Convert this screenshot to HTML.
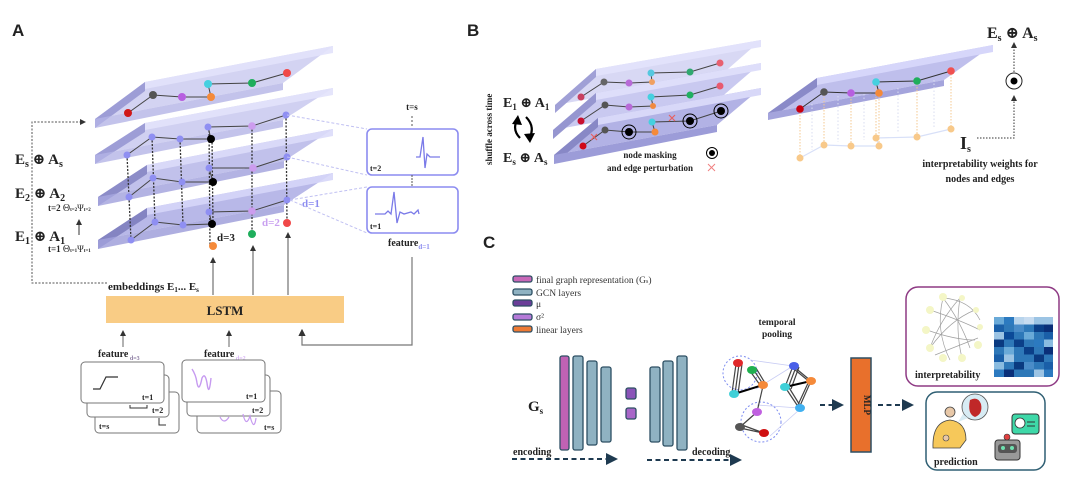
<!DOCTYPE html>
<html><head><meta charset="utf-8"><style>
html,body{margin:0;padding:0;background:#fff;}
svg{display:block;font-family:"Liberation Serif","DejaVu Serif",serif;}
.b{font-weight:bold;fill:#222;}
</style></head><body>
<svg width="1080" height="489" viewBox="0 0 1080 489" xmlns="http://www.w3.org/2000/svg">
<defs>
<marker id="ah" markerWidth="6" markerHeight="6" refX="5" refY="3" orient="auto"><path d="M0,0 L6,3 L0,6z" fill="#333"/></marker>
<marker id="ahd" markerWidth="6" markerHeight="6" refX="5" refY="3" orient="auto"><path d="M0,0 L6,3 L0,6z" fill="#1e3a50"/></marker>
</defs>

<!-- ============ PANEL A ============ -->
<text x="12" y="36" class="b" font-size="17" font-family="Liberation Sans,sans-serif">A</text>

<!-- planes -->
<g stroke="none">
<polygon points="95,119 145,82 333,46 283,83" fill="#c4c4ee" opacity=".75"/>
<polygon points="145,82 333,46 333,53 145,89" fill="#e2e2fb" opacity=".9"/>
<polygon points="95,119 145,82 145,91 95,128" fill="#9d9dd6"/>
<polygon points="95,119 283,83 283,90 95,128" fill="#b4b4e6" opacity=".8"/>

<polygon points="95,155 145,123 333,88 283,120" fill="#c0c0ec" opacity=".75"/>
<polygon points="145,123 333,88 333,95 145,130" fill="#e2e2fb" opacity=".9"/>
<polygon points="95,155 145,123 145,132 95,164" fill="#9d9dd6"/>
<polygon points="95,155 283,120 283,127 95,164" fill="#b4b4e6" opacity=".8"/>

<polygon points="98,197 147,165 333,129 284,161" fill="#b2b2e6" opacity=".8"/>
<polygon points="147,165 333,129 333,136 147,172" fill="#dcdcfa" opacity=".9"/>
<polygon points="98,197 147,165 147,174 98,206" fill="#8c8cc8"/>
<polygon points="98,197 284,161 284,168 98,206" fill="#a6a6de" opacity=".85"/>

<polygon points="98,240 147,208 333,173 284,205" fill="#acacE4" opacity=".85"/>
<polygon points="147,208 333,173 333,180 147,215" fill="#d6d6f8" opacity=".9"/>
<polygon points="98,240 147,208 147,217 98,249" fill="#8484c2"/>
<polygon points="98,240 284,205 284,212 98,249" fill="#a0a0da" opacity=".85"/>
</g>
<!-- dashed verticals -->
<g stroke="#333" stroke-width="1.3" stroke-dasharray="2,1.5">
<line x1="127" y1="155" x2="131" y2="240"/>
<line x1="152" y1="137" x2="155" y2="222"/>
<line x1="180" y1="139" x2="183" y2="225"/>
<line x1="209" y1="127" x2="210" y2="246"/>
<line x1="212" y1="139" x2="213" y2="224"/>
<line x1="252" y1="126" x2="252" y2="234"/>
<line x1="286" y1="115" x2="287" y2="223"/>
</g>
<!-- edges -->
<g stroke="#444" stroke-width="1" fill="none">
<polyline points="128,113 153,95 182,97 211,97 208,84 252,83 287,73"/>
<polyline points="127,155 152,137 180,139 211,139 208,127 252,126 286,115"/>
<polyline points="129,197 153,178 182,182 213,182 209,168 253,168 287,157"/>
<polyline points="131,240 155,222 183,225 212,224 209,212 252,211 287,200"/>
</g>
<g>
<circle cx="128" cy="113" r="4" fill="#d01818"/><circle cx="153" cy="95" r="4" fill="#555"/><circle cx="182" cy="97" r="4" fill="#b75fe0"/><circle cx="211" cy="97" r="4" fill="#f58a3a"/><circle cx="208" cy="84" r="4" fill="#45d0e0"/><circle cx="252" cy="83" r="4" fill="#1fae5c"/><circle cx="287" cy="73" r="4" fill="#f04848"/>
<g fill="#8f8ff2"><circle cx="127" cy="155" r="3.5"/><circle cx="152" cy="137" r="3.5"/><circle cx="180" cy="139" r="3.5"/><circle cx="208" cy="127" r="3.5"/><circle cx="286" cy="115" r="3.5"/>
<circle cx="129" cy="197" r="3.5"/><circle cx="153" cy="178" r="3.5"/><circle cx="182" cy="182" r="3.5"/><circle cx="209" cy="168" r="3.5"/><circle cx="287" cy="157" r="3.5"/>
<circle cx="131" cy="240" r="3.5"/><circle cx="155" cy="222" r="3.5"/><circle cx="183" cy="225" r="3.5"/><circle cx="209" cy="212" r="3.5"/><circle cx="287" cy="200" r="3.5"/></g>
<g fill="#cc9cee"><circle cx="252" cy="126" r="3.8"/><circle cx="253" cy="168" r="3.8"/><circle cx="252" cy="211" r="3.8"/></g>
<g fill="#000"><circle cx="211" cy="139" r="4"/><circle cx="213" cy="182" r="4"/><circle cx="212" cy="224" r="4"/></g>
<circle cx="213" cy="246" r="4" fill="#f58a3a"/><circle cx="252" cy="234" r="4" fill="#1fae5c"/><circle cx="287" cy="223" r="4" fill="#f04848"/>
</g>
<text x="217" y="241" class="b" font-size="11">d=3</text>
<text x="262" y="226" font-weight="bold" font-size="11" fill="#c9a0f0">d=2</text>
<text x="302" y="207" font-weight="bold" font-size="11" fill="#8c8cf0">d=1</text>

<!-- left labels -->
<text x="15" y="164" class="b" font-size="15">E<tspan font-size="10" dy="3">s</tspan><tspan dy="-3"> ⊕ A</tspan><tspan font-size="10" dy="3">s</tspan></text>
<text x="15" y="198" class="b" font-size="15">E<tspan font-size="10" dy="3">2</tspan><tspan dy="-3"> ⊕ A</tspan><tspan font-size="10" dy="3">2</tspan></text>
<text x="15" y="241" class="b" font-size="15">E<tspan font-size="10" dy="3">1</tspan><tspan dy="-3"> ⊕ A</tspan><tspan font-size="10" dy="3">1</tspan></text>
<text x="48" y="211" class="b" font-size="9">t=2 <tspan font-weight="normal" font-size="10">Θ</tspan><tspan font-size="5">t=2</tspan><tspan font-weight="normal" font-size="9">Ψ</tspan><tspan font-size="5">t=2</tspan></text>
<text x="48" y="252" class="b" font-size="9">t=1 <tspan font-weight="normal" font-size="10">Θ</tspan><tspan font-size="5">t=1</tspan><tspan font-weight="normal" font-size="9">Ψ</tspan><tspan font-size="5">t=1</tspan></text>
<line x1="79" y1="235" x2="79" y2="220" stroke="#333" stroke-width="1" marker-end="url(#ah)"/>
<polyline points="107,283 32,283 32,122 85,122" fill="none" stroke="#555" stroke-width="1" stroke-dasharray="2,1.5" marker-end="url(#ah)"/>

<!-- feature boxes -->
<text x="412" y="110" class="b" font-size="9" text-anchor="middle">t=s</text>
<line x1="412" y1="116" x2="412" y2="128" stroke="#555" stroke-dasharray="2,2"/>
<rect x="367" y="129" width="91" height="46" rx="5" fill="#fff" stroke="#8c8cf0" stroke-width="1.6"/>
<rect x="367" y="187" width="91" height="46" rx="5" fill="#fff" stroke="#8c8cf0" stroke-width="1.6"/>
<line x1="412" y1="175" x2="412" y2="187" stroke="#555" stroke-dasharray="2,1"/>
<polyline points="416,157 420,157 423,137 425,168 427,154 430,157 440,157" fill="none" stroke="#7a7ae8" stroke-width="1.3"/>
<polyline points="375,214 385,214 388,211 391,214 394,192 397,223 400,212 404,214 411,212 414,214 418,210 419,214" fill="none" stroke="#7a7ae8" stroke-width="1.3"/>
<text x="370" y="171" class="b" font-size="8">t=2</text>
<text x="370" y="229" class="b" font-size="8">t=1</text>
<g stroke="#c0c0f2" stroke-width="1" stroke-dasharray="3,2">
<line x1="287" y1="115" x2="367" y2="129"/><line x1="287" y1="157" x2="367" y2="175"/>
<line x1="290" y1="200" x2="367" y2="187"/><line x1="290" y1="200" x2="367" y2="233"/>
</g>
<text x="388" y="246" class="b" font-size="10">feature<tspan font-size="7" fill="#8c8cf0" dy="3">d=1</tspan></text>
<polyline points="412,257 412,345 302,345 302,330" fill="none" stroke="#777" stroke-width="1.2" marker-end="url(#ah)"/>

<!-- LSTM -->
<text x="108" y="290" class="b" font-size="11">embeddings E<tspan font-size="7" dy="2">1</tspan><tspan dy="-2">... E</tspan><tspan font-size="7" dy="2">s</tspan></text>
<g stroke="#555" stroke-width="1"><line x1="213" y1="295" x2="213" y2="258" marker-end="url(#ah)"/><line x1="253" y1="295" x2="253" y2="246" marker-end="url(#ah)"/><line x1="288" y1="295" x2="288" y2="233" marker-end="url(#ah)"/></g>
<rect x="106" y="296" width="238" height="27" fill="#f9cc85"/>
<text x="225" y="315" class="b" font-size="13" text-anchor="middle">LSTM</text>
<g stroke="#666" stroke-width="1"><line x1="123" y1="347" x2="123" y2="331" marker-end="url(#ah)"/><line x1="229" y1="347" x2="229" y2="331" marker-end="url(#ah)"/></g>
<text x="98" y="357" class="b" font-size="10">feature<tspan font-size="6" fill="#8a7aa0" dy="3"> d=3</tspan></text>
<text x="204" y="357" class="b" font-size="10">feature<tspan font-size="6" fill="#d8b6f6" dy="3"> d=2</tspan></text>
<g fill="#fff" stroke="#777" stroke-width="1">
<rect x="95" y="392" width="84" height="41" rx="4"/><rect x="87" y="375" width="82" height="42" rx="4"/><rect x="81" y="362" width="83" height="41" rx="4"/>
<rect x="197" y="391" width="84" height="42" rx="4"/><rect x="187" y="375" width="83" height="41" rx="4"/><rect x="182" y="360" width="83" height="42" rx="4"/>
</g>
<polyline points="93,389 100,389 106,377 118,377" fill="none" stroke="#333" stroke-width="1.2"/>
<polyline points="130,405 130,408 147,408 147,405" fill="none" stroke="#333" stroke-width="1"/>
<polyline points="159,418 159,425 166,425" fill="none" stroke="#333" stroke-width="1"/>
<path d="M192,369 Q196,375 197,383 Q199,393 202,378 Q205,372 207,383 Q209,398 211,378" fill="none" stroke="#c69af0" stroke-width="1.4"/>
<path d="M220,417 Q224,425 229,417" fill="none" stroke="#c69af0" stroke-width="1.2"/>
<path d="M243,414 Q246,428 250,416 Q254,432 256,418" fill="none" stroke="#c69af0" stroke-width="1.2"/>
<g class="b" font-size="8"><text x="142" y="400">t=1</text><text x="152" y="413">t=2</text><text x="99" y="429">t=s</text>
<text x="246" y="399">t=1</text><text x="252" y="413">t=2</text><text x="264" y="430">t=s</text></g>

<!-- ============ PANEL B ============ -->
<text x="467" y="36" class="b" font-size="17" font-family="Liberation Sans,sans-serif">B</text>
<g>
<polygon points="555,105 596,69 761,40 720,76" fill="#c8c8ef" opacity=".7"/>
<polygon points="596,69 761,40 761,47 596,76" fill="#e2e2fb"/>
<polygon points="555,105 596,69 596,77 555,113" fill="#a0a0d6"/>
<polygon points="553,130 596,93 761,63 718,100" fill="#bcbcec" opacity=".8"/>
<polygon points="596,93 761,63 761,70 596,100" fill="#dedefa"/>
<polygon points="553,130 596,93 596,102 553,139" fill="#9696d0"/>
<polygon points="554,155 598,118 761,88 717,125" fill="#aaaae2" opacity=".9"/>
<polygon points="598,118 761,88 761,95 598,125" fill="#d8d8f8"/>
<polygon points="554,155 598,118 598,127 554,164" fill="#8888c6"/>
<polygon points="554,155 717,125 717,132 554,164" fill="#9c9cd8"/>
</g>
<g stroke="#444" stroke-width="1" fill="none">
<polyline points="581,97 604,82 629,83 652,82 651,73 690,72 720,63"/>
<polyline points="581,121 605,105 629,107 653,106 651,97 690,95 720,86"/>
<polyline points="583,146 605,130 629,132 655,132 652,122 690,121 721,111"/>
</g>
<g>
<circle cx="581" cy="97" r="3.5" fill="#c84060"/><circle cx="604" cy="82" r="3.5" fill="#666"/><circle cx="629" cy="83" r="3.5" fill="#b86ad8"/><circle cx="652" cy="82" r="3" fill="#f0a060"/><circle cx="651" cy="73" r="3.5" fill="#55c8e0"/><circle cx="690" cy="72" r="3.5" fill="#30a870"/><circle cx="720" cy="63" r="3.5" fill="#e86070"/>
<circle cx="581" cy="121" r="3.5" fill="#c81030"/><circle cx="605" cy="105" r="3.5" fill="#555"/><circle cx="629" cy="107" r="3.5" fill="#b86ad8"/><circle cx="653" cy="106" r="3" fill="#f08a40"/><circle cx="651" cy="97" r="3.5" fill="#45d0e0"/><circle cx="690" cy="95" r="3.5" fill="#20b060"/><circle cx="720" cy="86" r="3.5" fill="#e85a70"/>
<circle cx="583" cy="146" r="3.5" fill="#d00818"/><circle cx="605" cy="130" r="3.5" fill="#555"/><circle cx="655" cy="132" r="3.5" fill="#f58a3a"/><circle cx="652" cy="122" r="3.5" fill="#45d0e0"/>
<g fill="none" stroke="#000" stroke-width="1"><circle cx="629" cy="132" r="7"/><circle cx="690" cy="121" r="7"/><circle cx="721" cy="111" r="7"/></g>
<g fill="#000"><circle cx="629" cy="132" r="4"/><circle cx="690" cy="121" r="4"/><circle cx="721" cy="111" r="4"/></g>
</g>
<g stroke="#e86060" stroke-width="1.2"><path d="M591,134 l6,6 M597,134 l-6,6"/><path d="M669,115 l6,6 M675,115 l-6,6"/></g>
<text x="0" y="0" class="b" font-size="9" transform="translate(492,165) rotate(-90)">shuffle across time</text>
<text x="503" y="107" class="b" font-size="14">E<tspan font-size="9" dy="3">1</tspan><tspan dy="-3"> ⊕ A</tspan><tspan font-size="9" dy="3">1</tspan></text>
<text x="503" y="162" class="b" font-size="14">E<tspan font-size="9" dy="3">s</tspan><tspan dy="-3"> ⊕ A</tspan><tspan font-size="9" dy="3">s</tspan></text>
<path d="M520,138 Q512,130 517,120" fill="none" stroke="#000" stroke-width="2.2"/><path d="M512,124 L518,115 L522,125z" fill="#000"/>
<path d="M526,117 Q535,126 530,137" fill="none" stroke="#000" stroke-width="2.2"/><path d="M524,134 L530,143 L535,133z" fill="#000"/>
<text x="650" y="158" class="b" font-size="9" text-anchor="middle">node masking</text>
<text x="650" y="171" class="b" font-size="9" text-anchor="middle">and edge perturbation</text>
<circle cx="712" cy="153" r="5.5" fill="none" stroke="#000"/><circle cx="712" cy="153" r="3" fill="#000"/>
<path d="M708,164 l7,7 M715,164 l-7,7" stroke="#f08080" stroke-width="1"/>

<!-- B right -->
<polygon points="768,113 817,78 993,45 944,80" fill="#b8b8ea" opacity=".9"/>
<polygon points="817,78 993,45 993,52 817,85" fill="#d6d6fa"/>
<polygon points="768,113 817,78 817,87 768,120" fill="#8a8ac8"/>
<polygon points="768,113 944,80 944,86 768,120" fill="#a4a4dc"/>
<g stroke="#f5c890" stroke-width="1" stroke-dasharray="1.5,1.5">
<line x1="800" y1="109" x2="800" y2="158"/><line x1="824" y1="92" x2="824" y2="145"/><line x1="851" y1="93" x2="851" y2="146"/><line x1="879" y1="93" x2="879" y2="146"/><line x1="876" y1="82" x2="876" y2="138"/><line x1="917" y1="81" x2="917" y2="137"/><line x1="951" y1="71" x2="951" y2="129"/>
</g>
<g stroke="#d8dcf0" stroke-width="1" stroke-dasharray="1.5,2">
<line x1="812" y1="104" x2="812" y2="150"/><line x1="838" y1="96" x2="838" y2="142"/><line x1="864" y1="94" x2="864" y2="140"/><line x1="898" y1="88" x2="898" y2="132"/><line x1="934" y1="80" x2="934" y2="128"/>
</g>
<polyline points="800,158 824,145 851,146 879,146 876,138 917,137 951,129" fill="none" stroke="#d8e0f8" stroke-width="1.2"/>
<g fill="#f8c98a"><circle cx="800" cy="158" r="3.5"/><circle cx="824" cy="145" r="3.5"/><circle cx="851" cy="146" r="3.5"/><circle cx="879" cy="146" r="3.5"/><circle cx="876" cy="138" r="3.5"/><circle cx="917" cy="137" r="3.5"/><circle cx="951" cy="129" r="3.5"/></g>
<polyline points="800,109 824,92 851,93 879,93 876,82 917,81 951,71" fill="none" stroke="#333" stroke-width="1"/>
<circle cx="800" cy="109" r="3.8" fill="#c80010"/><circle cx="824" cy="92" r="3.8" fill="#555"/><circle cx="851" cy="93" r="3.8" fill="#b75fe0"/><circle cx="879" cy="93" r="3.8" fill="#f58a3a"/><circle cx="876" cy="82" r="3.8" fill="#45d0e0"/><circle cx="917" cy="81" r="3.8" fill="#1fae5c"/><circle cx="951" cy="71" r="3.8" fill="#f05050"/>
<text x="987" y="38" class="b" font-size="16">E<tspan font-size="10" dy="3">s</tspan><tspan dy="-3"> ⊕ A</tspan><tspan font-size="10" dy="3">s</tspan></text>
<circle cx="1014" cy="81" r="8" fill="#fff" stroke="#222"/><circle cx="1014" cy="81" r="3.5" fill="#000"/>
<line x1="1014" y1="72" x2="1014" y2="43" stroke="#333" stroke-dasharray="1.5,1.5" marker-end="url(#ah)"/>
<polyline points="977,138 1014,138 1014,96" fill="none" stroke="#333" stroke-dasharray="1.5,1.5" marker-end="url(#ah)"/>
<text x="960" y="149" class="b" font-size="18">I<tspan font-size="10" dy="3">s</tspan></text>
<text x="980" y="167" class="b" font-size="10" text-anchor="middle">interpretability weights for</text>
<text x="980" y="182" class="b" font-size="10" text-anchor="middle">nodes and edges</text>

<!-- ============ PANEL C ============ -->
<text x="483" y="248" class="b" font-size="17" font-family="Liberation Sans,sans-serif">C</text>
<g stroke="#2d4f63" stroke-width="1.3">
<rect x="513" y="276" width="19" height="6" rx="2" fill="#c868b8"/>
<rect x="513" y="289" width="19" height="6" rx="2" fill="#8fb2c2"/>
<rect x="513" y="300" width="19" height="6" rx="2" fill="#6a3e98"/>
<rect x="513" y="314" width="19" height="6" rx="2" fill="#b57ad8"/>
<rect x="513" y="326" width="19" height="6" rx="2" fill="#ee7a34"/>
</g>
<g font-size="9.5" fill="#333">
<text x="536" y="283">final graph representation (G<tspan font-size="6">s</tspan>)</text>
<text x="536" y="296">GCN layers</text>
<text x="536" y="307">μ</text>
<text x="536" y="320">σ²</text>
<text x="536" y="333">linear layers</text>
</g>
<text x="528" y="411" class="b" font-size="15">G<tspan font-size="9" dy="3">s</tspan></text>
<g stroke="#2d4f63" stroke-width="1.3">
<rect x="560" y="356" width="9" height="94" rx="2" fill="#c062b4"/>
<rect x="573" y="356" width="10" height="94" rx="2" fill="#8fb2c2"/>
<rect x="587" y="361" width="10" height="84" rx="2" fill="#8fb2c2"/>
<rect x="601" y="367" width="10" height="75" rx="2" fill="#8fb2c2"/>
<rect x="626" y="388" width="10" height="11" rx="2" fill="#8a54b8"/>
<rect x="626" y="408" width="10" height="11" rx="2" fill="#a866c8"/>
<rect x="650" y="367" width="10" height="75" rx="2" fill="#8fb2c2"/>
<rect x="663" y="361" width="10" height="85" rx="2" fill="#8fb2c2"/>
<rect x="677" y="356" width="10" height="94" rx="2" fill="#8fb2c2"/>
</g>
<text x="513" y="455" class="b" font-size="10">encoding</text>
<text x="692" y="455" class="b" font-size="10">decoding</text>
<g stroke="#1e3a50" stroke-width="2" stroke-dasharray="5,3.5">
<line x1="512" y1="459" x2="616" y2="459" marker-end="url(#ahd)"/>
<line x1="647" y1="460" x2="740" y2="460" marker-end="url(#ahd)"/>
<line x1="820" y1="405" x2="842" y2="405" marker-end="url(#ahd)"/>
<line x1="878" y1="405" x2="912" y2="405" marker-end="url(#ahd)"/>
</g>
<text x="777" y="325" class="b" font-size="9.5" text-anchor="middle">temporal</text>
<text x="777" y="337" class="b" font-size="9.5" text-anchor="middle">pooling</text>
<!-- pooling graph -->
<g fill="none" stroke="#7d8cf0" stroke-width="1" stroke-dasharray="2,2">
<circle cx="740" cy="373" r="17"/><circle cx="761" cy="422" r="20"/>
</g>
<g stroke="#c8ccf4" stroke-width=".8"><line x1="750" y1="360" x2="793" y2="366"/><line x1="757" y1="405" x2="799" y2="408"/><line x1="770" y1="436" x2="799" y2="410"/><line x1="756" y1="389" x2="793" y2="366"/></g>
<g stroke="#444" stroke-width="1.2">
<path d="M736,364 L732,393 M739,364 L735,394 M742,364 L738,394"/>
<path d="M750,371 L760,385 M753,369 L763,384 M756,368 L765,383"/>
<path d="M734,394 L763,385" stroke="#000" stroke-width="2"/>
<path d="M763,386 L757,412"/>
<path d="M740,427 L757,412 M740,428 L763,433 M742,425 L761,432"/>
<path d="M793,366 L785,387 M796,367 L788,388 M799,367 L791,389"/>
<path d="M793,366 L811,381 M794,369 L811,383"/>
<path d="M785,387 L799,408 M788,386 L801,407"/>
<path d="M811,381 L799,408 M809,381 L797,407"/>
<path d="M785,387 L811,381" stroke="#000" stroke-width="2"/>
</g>
<g>
<ellipse cx="738" cy="363" rx="5" ry="4" fill="#e0282a"/><ellipse cx="752" cy="370" rx="5" ry="4" fill="#20b050"/><ellipse cx="734" cy="394" rx="5" ry="4" fill="#40d0d8"/><ellipse cx="763" cy="385" rx="5" ry="4" fill="#f58a3a"/><ellipse cx="757" cy="412" rx="5" ry="4" fill="#c060e0"/><ellipse cx="740" cy="427" rx="5" ry="4" fill="#555"/><ellipse cx="764" cy="433" rx="5" ry="4" fill="#d01010"/>
<ellipse cx="794" cy="366" rx="5" ry="4" fill="#4a60e8"/><ellipse cx="811" cy="381" rx="5" ry="4" fill="#f58a3a"/><ellipse cx="785" cy="387" rx="5" ry="4" fill="#40d0d8"/><ellipse cx="800" cy="408" rx="5" ry="4" fill="#40b0f0"/>
</g>
<!-- MLP -->
<rect x="851" y="358" width="20" height="94" fill="#e8702c" stroke="#2d4f63" stroke-width="1.5"/>
<text x="0" y="0" class="b" font-size="9" text-anchor="middle" transform="translate(864,405) rotate(90)">MLP</text>
<!-- interpretability -->
<rect x="906" y="287" width="153" height="99" rx="12" fill="#fff" stroke="#8e3a84" stroke-width="1.5"/>
<g stroke="#888" stroke-width=".7" fill="none" opacity=".8">
<path d="M943,298 Q960,320 970,348"/><path d="M943,298 Q935,330 950,360"/><path d="M930,310 Q960,320 980,330"/><path d="M930,348 Q950,320 975,310"/><path d="M960,298 Q955,330 962,358"/><path d="M927,330 Q955,340 975,340"/><path d="M943,298 Q970,300 980,320"/><path d="M935,355 Q960,345 978,338"/><path d="M960,298 Q940,320 930,348"/>
</g>
<g fill="#f4f6c6"><circle cx="943" cy="297" r="4"/><circle cx="962" cy="298" r="3"/><circle cx="976" cy="310" r="3"/><circle cx="930" cy="310" r="4"/><circle cx="926" cy="330" r="4"/><circle cx="930" cy="348" r="4"/><circle cx="943" cy="358" r="4"/><circle cx="962" cy="358" r="4"/><circle cx="978" cy="345" r="4"/><circle cx="980" cy="327" r="3"/></g>
<g>
<rect x="994" y="317" width="59" height="60" fill="#2e78b8"/>
<rect x="994" y="317" width="10" height="7.5" fill="#6aaad8"/><rect x="1004" y="317" width="10" height="7.5" fill="#2c7ac0"/><rect x="1014" y="317" width="10" height="7.5" fill="#b8d4ec"/><rect x="1024" y="317" width="10" height="7.5" fill="#c8dcf0"/><rect x="1034" y="317" width="19" height="7.5" fill="#9cc4e4"/>
<rect x="994" y="324.5" width="10" height="7.5" fill="#1a5fa8"/><rect x="1014" y="324.5" width="10" height="7.5" fill="#4a8cc8"/><rect x="1034" y="324.5" width="10" height="7.5" fill="#0b3f88"/><rect x="1044" y="324.5" width="9" height="7.5" fill="#0a2f78"/>
<rect x="994" y="332" width="10" height="7.5" fill="#9cc4e4"/><rect x="1004" y="332" width="10" height="7.5" fill="#0b4a98"/><rect x="1024" y="332" width="10" height="7.5" fill="#6aaad8"/><rect x="1044" y="332" width="9" height="7.5" fill="#1a5fa8"/>
<rect x="994" y="339.5" width="10" height="7.5" fill="#0a3a80"/><rect x="1014" y="339.5" width="10" height="7.5" fill="#0b3f88"/><rect x="1034" y="339.5" width="10" height="7.5" fill="#2c7ac0"/><rect x="1044" y="339.5" width="9" height="7.5" fill="#8abce0"/>
<rect x="1004" y="347" width="10" height="7.5" fill="#6aaad8"/><rect x="1024" y="347" width="10" height="7.5" fill="#0b3f88"/><rect x="1044" y="347" width="9" height="7.5" fill="#0a2f78"/>
<rect x="994" y="354.5" width="10" height="7.5" fill="#1a5fa8"/><rect x="1004" y="354.5" width="10" height="7.5" fill="#9cc4e4"/><rect x="1034" y="354.5" width="10" height="7.5" fill="#0a3a80"/>
<rect x="994" y="362" width="10" height="7.5" fill="#8abce0"/><rect x="1014" y="362" width="10" height="7.5" fill="#0a3a80"/><rect x="1024" y="362" width="10" height="7.5" fill="#4a8cc8"/><rect x="1044" y="362" width="9" height="7.5" fill="#1a5fa8"/>
<rect x="994" y="369.5" width="10" height="7.5" fill="#2c7ac0"/><rect x="1004" y="369.5" width="10" height="7.5" fill="#0a2f78"/><rect x="1034" y="369.5" width="10" height="7.5" fill="#9cc4e4"/><rect x="1044" y="369.5" width="9" height="7.5" fill="#2c7ac0"/>
</g>
<text x="915" y="378" class="b" font-size="10">interpretability</text>
<!-- prediction -->
<rect x="926" y="392" width="119" height="78" rx="11" fill="#fff" stroke="#2f5f73" stroke-width="1.5"/>
<circle cx="950" cy="412" r="5" fill="#e8c8a8" stroke="#444" stroke-width=".8"/>
<path d="M933,448 Q932,422 950,420 Q966,422 966,440 L960,448z" fill="#f6c85a" stroke="#444" stroke-width=".8"/>
<circle cx="946" cy="438" r="3" fill="#e8c8a8" stroke="#444" stroke-width=".6"/>
<circle cx="975" cy="407" r="13" fill="#d8ecf4" stroke="#555" stroke-width=".8"/>
<path d="M970,400 Q978,396 981,404 Q983,414 975,417 Q967,414 970,400z" fill="#c02828"/>
<path d="M963,414 L958,422 L968,418z" fill="#d8ecf4"/>
<rect x="1012" y="414" width="27" height="20" rx="3" fill="#3ed8a8" stroke="#333"/>
<circle cx="1020" cy="423" r="5" fill="#fff" stroke="#333" stroke-width=".8"/>
<line x1="1027" y1="422" x2="1035" y2="422" stroke="#333"/><line x1="1027" y1="426" x2="1035" y2="426" stroke="#333"/>
<rect x="995" y="440" width="25" height="20" rx="3" fill="#999" stroke="#333"/>
<circle cx="1007" cy="437" r="3" fill="#e04040" stroke="#333" stroke-width=".6"/>
<rect x="998" y="444" width="19" height="9" rx="3" fill="#555"/>
<circle cx="1003" cy="448" r="2" fill="#6ee0b0"/><circle cx="1012" cy="448" r="2" fill="#6ee0b0"/>
<text x="934" y="465" class="b" font-size="10">prediction</text>
</svg>
</body></html>
